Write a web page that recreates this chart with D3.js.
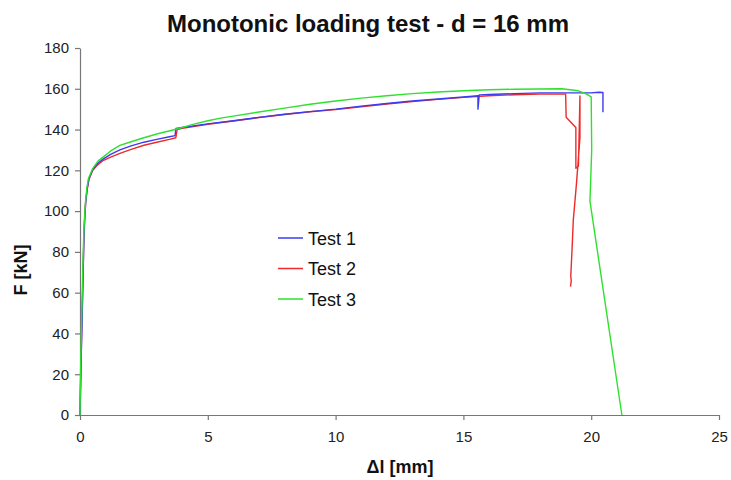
<!DOCTYPE html>
<html>
<head>
<meta charset="utf-8">
<script src="https://cdn.jsdelivr.net/npm/d3@7"></script>
<style>
  body { margin: 0; background: #fff; }
  svg text { font-family: "Liberation Sans", Arial, sans-serif; }
</style>
</head>
<body>
<div id="chart"></div>
<script>
// axis ticks
var xTicks = [0, 5, 10, 15, 20, 25];
var yTicks = [0, 20, 40, 60, 80, 100, 120, 140, 160, 180];

// [dl mm, F kN]
var test1 = [[0,0],[0.03,19],[0.06,35],[0.09,51],[0.12,68],[0.15,85],[0.18,95],[0.22,104],[0.28,111],
  [0.35,116],[0.5,120.5],[0.7,123.5],[0.9,125.5],[1.2,127.8],[1.56,130],[2,132],[2.5,133.8],[3,135.2],
  [3.5,136.5],[3.72,137],[3.75,140.5],[4,141],[5,142.8],[6,144.3],[7,146],[8,147.5],[9,148.8],[10,150],
  [11,151.5],[12,152.8],[13,154],[14,155],[15,156],[15.57,156.6],[15.57,150],[15.62,157],[16,157.2],
  [17,157.6],[18,158],[19,158],[20,158],[20.3,158.3],[20.46,158.2],[20.46,148.5]];

var test2 = [[0,0],[0.03,20],[0.06,38],[0.09,53],[0.12,70],[0.15,86],[0.18,96],[0.22,104],[0.28,110.5],
  [0.35,115.5],[0.5,120],[0.7,122.8],[0.9,124.8],[1.2,126.5],[1.56,128.3],[2,130.3],[2.5,132.3],[3,133.8],
  [3.5,135.2],[3.75,136],[3.8,140],[4,140.6],[5,142.6],[6,144.2],[7,145.9],[8,147.4],[9,148.7],[10,149.8],
  [11,151.2],[12,152.5],[13,153.7],[14,154.8],[15,155.8],[16,156.6],[17,157.1],[18,157.4],[19,157.4],
  [19.02,146],[19.4,141],[19.4,121],[19.5,122],[19.56,156.5],[19.56,136],[19.5,126],[19.42,113],
  [19.3,95.6],[19.25,81],[19.2,68],[19.22,66],[19.19,63]];

var test3 = [[0,0],[0.02,20],[0.05,40],[0.08,55],[0.11,72],[0.14,86],[0.17,95],[0.21,104],[0.27,111.5],
  [0.33,116],[0.5,121],[0.7,124.5],[0.9,126.5],[1.2,129.5],[1.56,132.2],[2,134],[2.5,136],[3,137.8],
  [3.52,139.4],[4,141],[4.5,142.8],[5,144.3],[5.5,145.6],[6,146.6],[7,148.6],[8,150.5],[9,152.4],[10,154],
  [11,155.4],[12,156.6],[13,157.6],[14,158.4],[15,159],[16,159.5],[17,159.8],[18.85,160],[19.5,159],
  [19.8,157.5],[20.0,156],[20.02,130],[19.98,115],[19.95,105],[21.2,0]];

var series = [
  { name: "Test 1", color: "#3b3bf0", data: test1 },
  { name: "Test 2", color: "#ee2a2a", data: test2 },
  { name: "Test 3", color: "#2fe02f", data: test3 }
];

var width = 731, height = 480;
var svg = d3.select("#chart").append("svg").attr("width", width).attr("height", height);

var x = d3.scaleLinear().domain([0, 25]).range([80, 719]);
var y = d3.scaleLinear().domain([0, 180]).range([415, 48]);

// axes
var xAxis = svg.append("g").attr("transform", "translate(0," + y(0) + ")")
  .call(d3.axisBottom(x).tickValues(xTicks).tickSize(5).tickSizeOuter(0).tickPadding(11));
var yAxis = svg.append("g").attr("transform", "translate(" + x(0) + ",0)")
  .call(d3.axisLeft(y).tickValues(yTicks).tickSize(5).tickSizeOuter(0).tickPadding(6));
[xAxis, yAxis].forEach(function(a) {
  a.select(".domain").attr("stroke", "#777").attr("stroke-width", 1.2);
  a.selectAll(".tick line").attr("stroke", "#777").attr("stroke-width", 1.2);
  a.selectAll(".tick text").attr("fill", "#222").style("font-size", "15px")
    .style("font-family", "'Liberation Sans', Arial, sans-serif");
});

var line = d3.line().x(function(d) { return x(d[0]); }).y(function(d) { return y(d[1]); });

// draw in order 2, 1, 3 so the green sits on top like the original
[series[1], series[0], series[2]].forEach(function(s) {
  svg.append("path").datum(s.data)
    .attr("d", line)
    .attr("fill", "none")
    .attr("stroke", s.color)
    .attr("stroke-width", 1.4)
    .attr("stroke-linejoin", "round");
});

// title and axis titles
svg.append("text").attr("x", 368).attr("y", 32).attr("text-anchor", "middle")
  .style("font-size", "24px").style("font-weight", "bold").attr("fill", "#111")
  .text("Monotonic loading test - d = 16 mm");
svg.append("text").attr("transform", "translate(27,270) rotate(-90)").attr("text-anchor", "middle")
  .style("font-size", "18px").style("font-weight", "bold").attr("fill", "#111").text("F [kN]");
svg.append("text").attr("x", 400).attr("y", 473).attr("text-anchor", "middle")
  .style("font-size", "18px").style("font-weight", "bold").attr("fill", "#111").text("\u0394l [mm]");

// legend
var legend = svg.append("g").attr("transform", "translate(278,238)");
series.forEach(function(s, i) {
  var g = legend.append("g").attr("transform", "translate(0," + (i * 30.5) + ")");
  g.append("line").attr("x1", 0).attr("x2", 25).attr("y1", 0).attr("y2", 0)
    .attr("stroke", s.color).attr("stroke-width", 1.5);
  g.append("text").attr("x", 30).attr("y", 6.5).style("font-size", "18px").attr("fill", "#111").text(s.name);
});
</script>
</body>
</html>
